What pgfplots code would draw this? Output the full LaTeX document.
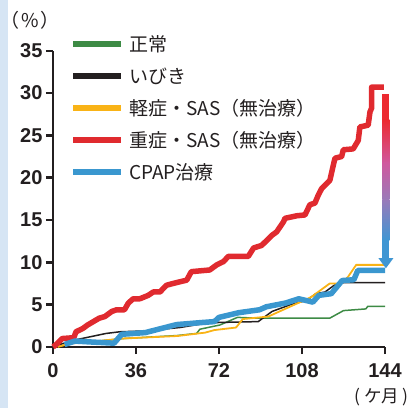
\documentclass[border=0pt]{standalone}
\usepackage{fontspec}
\setmainfont{Noto Sans CJK JP}
\newfontfamily\tickfont{Liberation Sans}
\usepackage{pgfplots}
\pgfplotsset{compat=1.18}
\definecolor{cgreen}{HTML}{3D8B45}
\definecolor{cblack}{HTML}{231F20}
\definecolor{corange}{HTML}{F9B316}
\definecolor{cred}{HTML}{E02A2F}
\definecolor{cblue}{HTML}{3A97CF}
\definecolor{txt}{HTML}{231F20}
\definecolor{band}{HTML}{D6E5F4}
\definecolor{ared}{HTML}{EC2A30}
\definecolor{apink}{HTML}{D0589E}
\definecolor{apurple}{HTML}{9A7AB9}
\definecolor{ablue}{HTML}{3F96D3}
\begin{document}
\begin{tikzpicture}
\useasboundingbox (0,0) rectangle (412pt,408pt);
\fill[band] (0,0) rectangle (8pt,408pt);
\node[text=txt, font=\fontsize{19}{19}\selectfont, inner sep=0pt, anchor=west] at (10pt,388pt) {\kern-0.5em（\kern0.1em\%\kern0.1em）\kern-0.55em};
\node[text=txt, font=\fontsize{17.5}{17.5}\selectfont, inner sep=0pt, anchor=east] at (409pt,11pt) {(\kern0.22emケ月\kern0.22em)};
% legend
\begin{scope}[line width=5.5pt]
\draw[cgreen]  (73pt,364pt) -- (121pt,364pt);
\draw[cblack]  (73pt,332pt) -- (121pt,332pt);
\draw[corange] (73pt,300pt) -- (121pt,300pt);
\draw[cred]    (73pt,268pt) -- (121pt,268pt);
\draw[cblue]   (73pt,236pt) -- (121pt,236pt);
\end{scope}
\begin{scope}[every node/.style={anchor=base west, inner sep=0pt, text=txt, font=\fontsize{19}{19}\selectfont}]
\node at (129pt,356.3pt) {正常};
\node at (129pt,324.3pt) {いびき};
\node at (129pt,292.3pt) {軽症・SAS（無治療）};
\node at (129pt,260.3pt) {重症・SAS（無治療）};
\node at (129pt,228.3pt) {CPAP治療};
\end{scope}
\begin{axis}[
  at={(53pt,61pt)}, anchor=south west,
  scale only axis, width=332pt, height=296.3pt,
  xmin=0, xmax=144, ymin=0, ymax=35,
  axis x line*=bottom, axis y line*=left,
  axis line style={line width=2.4pt, color=txt, -},
  xtick={0,36,72,108,144}, ytick={0,5,10,15,20,25,30,35},
  tick align=outside, major tick length=7pt,
  tick style={line width=2.4pt, color=txt},
  /pgf/number format/assume math mode=true,
  ticklabel style={font=\tickfont\bfseries\fontsize{20}{20}\selectfont, text=txt},
  xticklabel style={yshift=-6pt},
  clip=false,
]
\addplot[cgreen, line width=1.5pt, line join=round] coordinates {
(3,0.1) (9,0.5) (16,0.6) (30.5,1.0) (53.6,1.35) (62.3,1.6) (63.7,2.1) (72.4,2.6) (80,3.5) (89,3.4) (120,3.4) (126,4.3) (135.7,4.5) (136.5,4.8) (144,4.8)};
\addplot[cblack, line width=1.5pt, line join=round] coordinates {
(0,0) (3,0.3) (9,0.8) (23,1.6) (29,1.8) (40,1.9) (55,2.3) (66,2.8) (72,2.9) (89,3.0) (95,4.2) (103,5.0) (110,5.5) (114,6.3) (118,6.5) (122,7.3) (126,7.6) (144,7.6)};
\addplot[corange, line width=1.8pt, line join=round] coordinates {
(2,0) (7,0.4) (16,0.6) (30,1.0) (54,1.3) (66,1.7) (70,2.0) (79.4,2.3) (82.3,3.3) (93.4,3.6) (112,5.9) (120,7.5) (125,7.5) (128,8.3) (131.5,9.7) (144,9.7)};
\addplot[cred, line width=5.5pt, line join=round] coordinates {
(0,0) (1,0.2) (4,1.0) (9,1.1) (10,1.8) (13,2.2) (15,2.6) (17.5,3.0) (20,3.4) (22.5,3.6) (25.5,4.2) (27.6,4.4) (31,4.4) (32.7,5.2) (34.8,5.7) (37.7,5.7) (41.3,6.1) (43.5,6.5) (46.4,6.5) (47.8,6.9) (49.3,7.3) (52,7.5) (55,7.7) (58,7.9) (60,8.9) (68,9.1) (71,9.7) (74,10.1) (76,10.7) (84.7,10.7) (87,11.7) (90.5,12.0) (92,12.4) (95,13.2) (97,13.6) (100,14.8) (100.6,15.2) (105.7,15.5) (109.3,15.6) (111.4,16.8) (113.6,17.0) (115,17.9) (116.5,18.7) (120.1,19.7) (121.6,21.5) (122.3,22.3) (125.2,22.5) (125.9,23.3) (130.2,23.4) (132.4,24.4) (133.1,26.0) (136.7,26.2) (137.5,27.8) (138.2,28.2) (138.2,30.7) (143.5,30.7)};
\addplot[cblue, line width=5.5pt, line join=round] coordinates {
(5,0.3) (9.5,0.7) (16,0.6) (26.5,0.45) (29.8,1.5) (40,1.7) (53.6,2.65) (65,2.9) (70,3.0) (72,3.5) (80.5,4.05) (89.6,4.4) (92.5,4.75) (101,5.2) (106.6,5.7) (112.7,5.3) (115.3,6.1) (120.7,6.3) (125.4,7.85) (130.5,7.95) (132.2,9.05) (144,9.05)};
% gradient arrow
\fill[ared] ([xshift=-3.5pt]axis cs:144.4,29.9) rectangle ([xshift=3.5pt]axis cs:144.4,26.8);
\shade[top color=ared, bottom color=apink] ([xshift=-3.5pt]axis cs:144.4,26.85) rectangle ([xshift=3.5pt]axis cs:144.4,21.7);
\shade[top color=apink, bottom color=apurple] ([xshift=-3.5pt]axis cs:144.4,21.75) rectangle ([xshift=3.5pt]axis cs:144.4,17.4);
\shade[top color=apurple, bottom color=ablue] ([xshift=-3.5pt]axis cs:144.4,17.45) rectangle ([xshift=3.5pt]axis cs:144.4,12.6);
\fill[ablue] ([xshift=-3.5pt]axis cs:144.4,12.65) rectangle ([xshift=3.5pt]axis cs:144.4,10.4);
\fill[ablue] ([xshift=-7.5pt]axis cs:144.4,10.5) -- ([xshift=7.5pt]axis cs:144.4,10.5) -- (axis cs:144.4,9.3) -- cycle;
\end{axis}
\end{tikzpicture}
\end{document}
